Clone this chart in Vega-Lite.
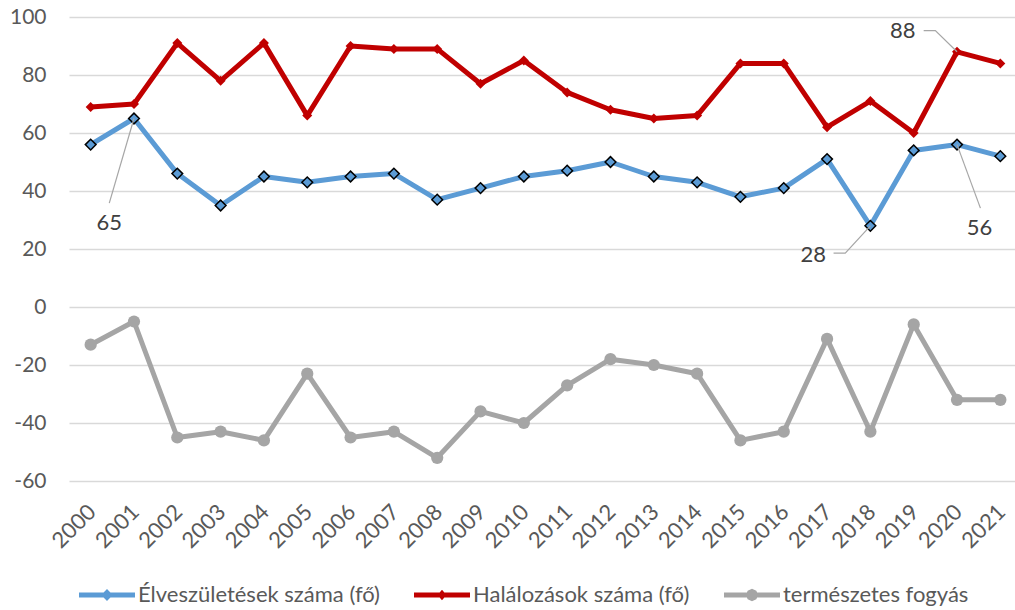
{
  "$schema": "https://vega.github.io/schema/vega-lite/v6.json",
  "width": 953,
  "height": 464,
  "autosize": {"type": "none"},
  "padding": {"left": 69, "top": 17, "right": 0, "bottom": 129},
  "background": "white",
  "config": {
    "view": {"stroke": null},
    "font": "Lato",
    "axis": {"labelFont": "Lato", "labelColor": "#595959"}
  },
  "datasets": {
    "main": [
      {"year": 2000, "series": "Élveszületések száma (fő)", "value": 56},
      {"year": 2001, "series": "Élveszületések száma (fő)", "value": 65},
      {"year": 2002, "series": "Élveszületések száma (fő)", "value": 46},
      {"year": 2003, "series": "Élveszületések száma (fő)", "value": 35},
      {"year": 2004, "series": "Élveszületések száma (fő)", "value": 45},
      {"year": 2005, "series": "Élveszületések száma (fő)", "value": 43},
      {"year": 2006, "series": "Élveszületések száma (fő)", "value": 45},
      {"year": 2007, "series": "Élveszületések száma (fő)", "value": 46},
      {"year": 2008, "series": "Élveszületések száma (fő)", "value": 37},
      {"year": 2009, "series": "Élveszületések száma (fő)", "value": 41},
      {"year": 2010, "series": "Élveszületések száma (fő)", "value": 45},
      {"year": 2011, "series": "Élveszületések száma (fő)", "value": 47},
      {"year": 2012, "series": "Élveszületések száma (fő)", "value": 50},
      {"year": 2013, "series": "Élveszületések száma (fő)", "value": 45},
      {"year": 2014, "series": "Élveszületések száma (fő)", "value": 43},
      {"year": 2015, "series": "Élveszületések száma (fő)", "value": 38},
      {"year": 2016, "series": "Élveszületések száma (fő)", "value": 41},
      {"year": 2017, "series": "Élveszületések száma (fő)", "value": 51},
      {"year": 2018, "series": "Élveszületések száma (fő)", "value": 28},
      {"year": 2019, "series": "Élveszületések száma (fő)", "value": 54},
      {"year": 2020, "series": "Élveszületések száma (fő)", "value": 56},
      {"year": 2021, "series": "Élveszületések száma (fő)", "value": 52},
      {"year": 2000, "series": "Halálozások száma (fő)", "value": 69},
      {"year": 2001, "series": "Halálozások száma (fő)", "value": 70},
      {"year": 2002, "series": "Halálozások száma (fő)", "value": 91},
      {"year": 2003, "series": "Halálozások száma (fő)", "value": 78},
      {"year": 2004, "series": "Halálozások száma (fő)", "value": 91},
      {"year": 2005, "series": "Halálozások száma (fő)", "value": 66},
      {"year": 2006, "series": "Halálozások száma (fő)", "value": 90},
      {"year": 2007, "series": "Halálozások száma (fő)", "value": 89},
      {"year": 2008, "series": "Halálozások száma (fő)", "value": 89},
      {"year": 2009, "series": "Halálozások száma (fő)", "value": 77},
      {"year": 2010, "series": "Halálozások száma (fő)", "value": 85},
      {"year": 2011, "series": "Halálozások száma (fő)", "value": 74},
      {"year": 2012, "series": "Halálozások száma (fő)", "value": 68},
      {"year": 2013, "series": "Halálozások száma (fő)", "value": 65},
      {"year": 2014, "series": "Halálozások száma (fő)", "value": 66},
      {"year": 2015, "series": "Halálozások száma (fő)", "value": 84},
      {"year": 2016, "series": "Halálozások száma (fő)", "value": 84},
      {"year": 2017, "series": "Halálozások száma (fő)", "value": 62},
      {"year": 2018, "series": "Halálozások száma (fő)", "value": 71},
      {"year": 2019, "series": "Halálozások száma (fő)", "value": 60},
      {"year": 2020, "series": "Halálozások száma (fő)", "value": 88},
      {"year": 2021, "series": "Halálozások száma (fő)", "value": 84},
      {"year": 2000, "series": "természetes fogyás", "value": -13},
      {"year": 2001, "series": "természetes fogyás", "value": -5},
      {"year": 2002, "series": "természetes fogyás", "value": -45},
      {"year": 2003, "series": "természetes fogyás", "value": -43},
      {"year": 2004, "series": "természetes fogyás", "value": -46},
      {"year": 2005, "series": "természetes fogyás", "value": -23},
      {"year": 2006, "series": "természetes fogyás", "value": -45},
      {"year": 2007, "series": "természetes fogyás", "value": -43},
      {"year": 2008, "series": "természetes fogyás", "value": -52},
      {"year": 2009, "series": "természetes fogyás", "value": -36},
      {"year": 2010, "series": "természetes fogyás", "value": -40},
      {"year": 2011, "series": "természetes fogyás", "value": -27},
      {"year": 2012, "series": "természetes fogyás", "value": -18},
      {"year": 2013, "series": "természetes fogyás", "value": -20},
      {"year": 2014, "series": "természetes fogyás", "value": -23},
      {"year": 2015, "series": "természetes fogyás", "value": -46},
      {"year": 2016, "series": "természetes fogyás", "value": -43},
      {"year": 2017, "series": "természetes fogyás", "value": -11},
      {"year": 2018, "series": "természetes fogyás", "value": -43},
      {"year": 2019, "series": "természetes fogyás", "value": -6},
      {"year": 2020, "series": "természetes fogyás", "value": -32},
      {"year": 2021, "series": "természetes fogyás", "value": -32}
    ],
    "labels": [
      {"label": "65", "year": 2000.43, "value": 29.1},
      {"label": "88", "year": 2018.75, "value": 95.1},
      {"label": "28", "year": 2016.68, "value": 18.0},
      {"label": "56", "year": 2020.52, "value": 27.2}
    ],
    "leaders": [
      {"id": "65", "order": 1, "year": 2001, "value": 65},
      {"id": "65", "order": 2, "year": 2000.43, "value": 35.8},
      {"id": "88", "order": 1, "year": 2019.23, "value": 95.3},
      {"id": "88", "order": 2, "year": 2019.5, "value": 95.3},
      {"id": "88", "order": 3, "year": 2020, "value": 88},
      {"id": "28", "order": 1, "year": 2017.15, "value": 18.6},
      {"id": "28", "order": 2, "year": 2017.42, "value": 18.6},
      {"id": "28", "order": 3, "year": 2018, "value": 28},
      {"id": "56", "order": 1, "year": 2020, "value": 56},
      {"id": "56", "order": 2, "year": 2020.54, "value": 34.1}
    ]
  },
  "encoding": {
    "x": {
      "field": "year",
      "type": "quantitative",
      "scale": {"domain": [1999.5, 2021.5], "nice": false, "zero": false},
      "axis": {
        "title": null,
        "values": [2000, 2001, 2002, 2003, 2004, 2005, 2006, 2007, 2008, 2009, 2010, 2011, 2012, 2013, 2014, 2015, 2016, 2017, 2018, 2019, 2020, 2021],
        "format": "d",
        "labelAngle": -45,
        "labelFontSize": 22,
        "labelPadding": 20,
        "labelOffset": -6,
        "grid": false,
        "domain": false,
        "ticks": false,
        "labelOverlap": false,
        "labelFlush": false
      }
    },
    "y": {
      "field": "value",
      "type": "quantitative",
      "scale": {"domain": [-60, 100], "nice": false},
      "axis": {
        "title": null,
        "values": [-60, -40, -20, 0, 20, 40, 60, 80, 100],
        "labelExpr": "'' + datum.value",
        "labelFontSize": 21,
        "labelPadding": 23,
        "grid": true,
        "gridColor": "#D9D9D9",
        "gridWidth": 1.3,
        "domain": false,
        "ticks": false
      }
    }
  },
  "layer": [
    {
      "data": {"name": "main"},
      "mark": {"type": "line", "strokeWidth": 5, "strokeJoin": "round"},
      "encoding": {
        "color": {
          "field": "series",
          "type": "nominal",
          "scale": {
            "domain": ["Élveszületések száma (fő)", "Halálozások száma (fő)", "természetes fogyás"],
            "range": ["#5B9BD5", "#C00000", "#A5A5A5"]
          },
          "legend": {
            "title": null,
            "orient": "none",
            "legendX": 10,
            "legendY": 550,
            "direction": "horizontal",
            "labelFont": "Lato",
            "labelFontSize": 22,
            "labelColor": "#595959",
            "symbolSize": 3136,
            "columnPadding": 34,
            "labelOffset": 3,
            "labelLimit": 400,
            "encode": {
              "symbols": {
                "update": {
                  "shape": {"signal": "datum.value === 'természetes fogyás' ? 'M-1,-0.09 L1,-0.09 L1,0.09 L-1,0.09 Z M-0.22,0 L-0.155,-0.155 L0,-0.22 L0.155,-0.155 L0.22,0 L0.155,0.155 L0,0.22 L-0.155,0.155 Z' : (datum.value === 'Halálozások száma (fő)' ? 'M-1,-0.09 L1,-0.09 L1,0.09 L-1,0.09 Z M0,-0.19 L0.16,0 L0,0.19 L-0.16,0 Z' : 'M-1,-0.09 L1,-0.09 L1,0.09 L-1,0.09 Z M0,-0.21 L0.21,0 L0,0.21 L-0.21,0 Z')"},
                  "fill": {"scale": "color", "field": "value"},
                  "strokeWidth": {"value": 0},
                  "opacity": {"value": 1}
                }
              }
            }
          }
        }
      }
    },
    {
      "data": {"name": "main"},
      "transform": [{"filter": "datum.series === 'Élveszületések száma (fő)'"}],
      "mark": {"type": "point", "shape": "diamond", "filled": true, "fill": "#5B9BD5", "stroke": "#000000", "strokeWidth": 1.5, "size": 115, "opacity": 1}
    },
    {
      "data": {"name": "main"},
      "transform": [{"filter": "datum.series === 'Halálozások száma (fő)'"}],
      "mark": {"type": "point", "shape": "diamond", "filled": true, "color": "#C00000", "size": 100, "opacity": 1}
    },
    {
      "data": {"name": "main"},
      "transform": [{"filter": "datum.series === 'természetes fogyás'"}],
      "mark": {"type": "point", "shape": "circle", "filled": true, "color": "#A5A5A5", "size": 150, "opacity": 1}
    },
    {
      "data": {"name": "leaders"},
      "mark": {"type": "line", "color": "#A6A6A6", "strokeWidth": 1.2},
      "encoding": {
        "detail": {"field": "id", "type": "nominal"},
        "order": {"field": "order", "type": "quantitative"}
      }
    },
    {
      "data": {"name": "labels"},
      "mark": {"type": "text", "fontSize": 22, "color": "#404040", "font": "Lato", "align": "center", "baseline": "middle"},
      "encoding": {
        "text": {"field": "label", "type": "nominal"}
      }
    }
  ]
}
